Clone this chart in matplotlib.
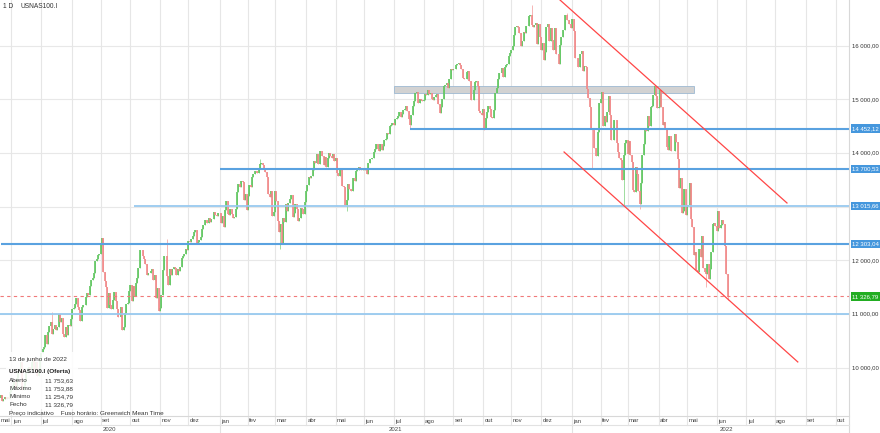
import numpy as np
import pandas as pd
import matplotlib
matplotlib.use('Agg')
import matplotlib.pyplot as plt
import matplotlib.transforms as mtransforms
from matplotlib.patches import Rectangle
from matplotlib.lines import Line2D

plt.rcParams['font.family'] = ['Liberation Sans', 'DejaVu Sans']

# ---------------- data ----------------
start_date = '2020-05-20'
first_open = 9440.0
closes = [
    # 2020 May (20-29)
    9485, 9375, 9410, 9450, 9410, 9450, 9420, 9555,
    # Jun
    9600, 9680, 9740, 9620, 9815, 9925, 9985, 10110, 9590, 9665, 9750, 9900, 10000, 10005, 9950,
    10100, 10185, 9950, 10110, 9850, 9960, 10155,
    # Jul
    10280, 10340, 10380, 10600, 10450, 10660, 10780, 10850, 10630, 10720, 10790, 10700, 10750,
    11000, 10860, 10920, 10620, 10580, 10750, 10600, 10800, 10780, 10905,
    # Aug
    11090, 11120, 11180, 11300, 11130, 11070, 10870, 11130, 11170, 11160, 11310, 11400, 11350,
    11520, 11640, 11670, 11760, 11980, 12030, 12100, 12110,
    # Sep
    12290, 12420, 11780, 11620, 11500, 11120, 11400, 11170, 11090, 11260, 11410, 11240, 11100,
    10940, 10940, 11130, 10710, 10760, 11010, 11190, 11200, 11420,
    # Oct
    11550, 11250, 11520, 11330, 11580, 11680, 11860, 12190, 12200, 12080, 12020, 11940, 11720,
    11760, 11760, 11800, 11840, 11640, 11720, 11300, 11490, 11050,
    # Nov
    11120, 11360, 11820, 12080, 12080, 11700, 11550, 11840, 11720, 11840, 11880, 11850, 11720,
    11830, 11800, 11880, 12050, 12090, 12120, 12220, 12200,
    # Dec
    12360, 12350, 12390, 12460, 12520, 12560, 12300, 12340, 12380, 12440, 12590, 12660, 12760,
    12760, 12700, 12780, 12720, 12770, 12770, 12900, 12850, 12820, 12890,
    # 2021 Jan
    12890, 12700, 12820, 12620, 12940, 13100, 12860, 12840, 12950, 12870, 12790, 12800, 12950,
    13280, 13420, 13370, 13470, 13460, 13120, 13230, 12930,
    # Feb
    13200, 13400, 13360, 13550, 13600, 13660, 13660, 13630, 13720, 13800, 13820, 13770, 13720,
    13640, 13560, 13230, 13180, 13300, 12830, 12910,
    # Mar
    13300, 13100, 12740, 12520, 12670, 12300, 12780, 12720, 13050, 12920, 13070, 13150, 13210,
    12810, 12880, 13050, 12960, 12740, 12780, 12980, 12950, 12860, 13090,
    # Apr
    13300, 13400, 13550, 13530, 13570, 13680, 13850, 13820, 13990, 13800, 14040, 14040, 13950,
    13780, 13930, 13740, 13900, 14000, 13950, 13910, 13990, 13860,
    # May
    13900, 13630, 13580, 13680, 13720, 13380, 13360, 13030, 13120, 13430, 13330, 13300, 13300,
    13540, 13470, 13660, 13680, 13740, 13700, 13690, 13700,
    # Jun
    13690, 13720, 13600, 13820, 13880, 13880, 13900, 14020, 14070, 14160, 14070, 14040, 14160,
    14050, 14140, 14250, 14270, 14370, 14360, 14500, 14530, 14550,
    # Jul
    14520, 14640, 14660, 14690, 14760, 14670, 14730, 14810, 14820, 14870, 14780, 14640, 14520,
    14700, 14880, 14970, 15110, 15130, 14940, 15010, 14990, 14960,
    # Aug
    14980, 15100, 15080, 15170, 15100, 15120, 15000, 14980, 15040, 15090, 15100, 14920, 14750,
    14860, 15010, 15240, 15270, 15300, 15210, 15380, 15560, 15550,
    # Sep
    15560, 15560, 15640, 15650, 15680, 15640, 15560, 15400, 15370, 15380, 15510, 15530, 15340,
    14990, 14990, 15170, 15320, 15350, 15240, 14780, 14750, 14700,
    # Oct
    14820, 14470, 14660, 14760, 14870, 14820, 14680, 14650, 14800, 15120, 15210, 15380, 15490,
    15490, 15590, 15420, 15600, 15640, 15650, 15810, 15860,
    # Nov
    15920, 15990, 16200, 16350, 16370, 16350, 16240, 15990, 16080, 16250, 16240, 16360, 16370,
    16550, 16580, 16380, 16350, 16390, 16420, 16030, 16400, 16170,
    # Dec
    15920, 16050, 15730, 15880, 16340, 16400, 16090, 16320, 16100, 15920, 16320, 15850, 15850,
    15660, 16010, 16170, 16300, 16300, 16570, 16480, 16480, 16400, 16320,
    # 2022 Jan
    16500, 16280, 15770, 15770, 15600, 15610, 15850, 15900, 15520, 15630, 15600, 15190, 15030,
    14850, 14450, 14430, 14090, 14090, 13950, 14400, 14930,
    # Feb
    15000, 15140, 14500, 14690, 14570, 14770, 15060, 14710, 14250, 14250, 14620, 14620, 14190,
    14010, 13900, 13870, 13500, 13960, 14190, 14240,
    # Mar
    13980, 14230, 13970, 13840, 13320, 13270, 13740, 13600, 13300, 13050, 13450, 13970, 14170,
    14440, 14410, 14690, 14510, 14850, 14880, 15080, 15240, 15070, 14840,
    # Apr
    14860, 15180, 14850, 14520, 14570, 14460, 14120, 14050, 14320, 14030, 14030, 14040, 14350,
    14200, 13880, 13350, 13530, 12890, 12920, 13330, 12850,
    # May
    13010, 13040, 13450, 12770, 12630, 12100, 12160, 11820, 11790, 12220, 12070, 12460, 11850,
    11780, 11740, 11930, 11650, 11830, 12160, 12680, 12700, 12640,
    # Jun
    12550, 12920, 12600, 12650, 12760, 12670, 12270, 11753.63, 11326.79,
]

# notable wick extremes
spike_dates = ['2020-07-13', '2020-11-09', '2021-02-12', '2021-03-05', '2021-05-13',
               '2021-07-19', '2021-10-04', '2021-11-22', '2021-12-28', '2022-01-24',
               '2022-02-24', '2022-03-14', '2022-03-29', '2022-05-20', '2022-06-13',
               '2022-06-13']
spike_prices = [11030, 12400, 13890, 12210, 12920,
                14450, 14420, 16760, 16600, 13720,
                13030, 12950, 15260, 11500, 11753.88,
                11254.79]

level_values = [14452.12, 13700.53, 13015.66, 12303.04]
level_starts = ['2021-07-19', '2021-01-01', '2020-10-06', '2020-05-20']
level_strong = [True, True, False, True]
support_value = 11000.0
last_price = 11326.79
zone_prices = [15113, 15255]
zone_dates = ['2021-07-01', '2022-05-09']
upper_dates = ['2021-12-17', '2022-08-12']
upper_prices = [16896, 13069]
lower_dates = ['2021-12-24', '2022-08-24']
lower_prices = [14019, 10107]
price_ticks = [10000, 11000, 12000, 13000, 14000, 15000, 16000]
month_names = ['jan', 'fev', 'mar', 'abr', 'mai', 'jun', 'jul', 'ago', 'set', 'out', 'nov', 'dez']
info_labels = ['Aberto', 'Máximo', 'Mínimo', 'Fecho']
info_values = [11753.63, 11753.88, 11254.79, 11326.79]

# ---------------- helpers ----------------
W, H = 880, 433
cal = pd.bdate_range(start_date, '2022-10-31')


def xpos(d):
    return cal.get_loc(pd.Timestamp(d))


def fmt(v):
    s = f"{v:,.2f}"
    return s.replace(',', ' ').replace('.', ',')


def fx(px):
    return px / W


def fy(py):
    return 1 - py / H


closes = np.array(closes, dtype=float)
opens = np.concatenate([[first_open], closes[:-1]])
xs = np.arange(len(closes))
highs = np.maximum(opens, closes)
lows = np.minimum(opens, closes)
for d, p in zip(spike_dates, spike_prices):
    i = xpos(d)
    highs[i] = max(highs[i], p)
    lows[i] = min(lows[i], p)

fig = plt.figure(figsize=(W / 100, H / 100), dpi=100)
fig.patch.set_facecolor('white')
plot_right = 849
plot_bottom = 416
ax = fig.add_axes([0, fy(plot_bottom), fx(plot_right), plot_bottom / H])
ax.set_xlim(-0.5, 627.9)
ax.set_ylim(9100, 16851)
for s in ax.spines.values():
    s.set_visible(False)
ax.set_xticks([])
ax.set_yticks([])

blend = mtransforms.blended_transform_factory(ax.transData, ax.transAxes)
blend_y = mtransforms.blended_transform_factory(ax.transAxes, ax.transData)

# horizontal grid
for v in price_ticks:
    ax.axhline(v, color='#e8e8e8', lw=0.8, zorder=0)

# month grid + labels
month_starts = []
for per in pd.period_range('2020-06', '2022-10', freq='M'):
    first = cal[(cal.year == per.year) & (cal.month == per.month)][0]
    month_starts.append((cal.get_loc(first), per.month, per.year))
row1 = (plot_bottom - 425) / plot_bottom
for x, m, y in month_starts:
    ax.plot([x, x], [row1, 1], transform=blend, color='#e6e6e6', lw=0.8,
            clip_on=False, zorder=0)
    ax.text(x + 1.0, (plot_bottom - 421) / plot_bottom, month_names[m - 1], transform=blend,
            fontsize=4.3, color='#444444', ha='left', va='center', clip_on=False)
ax.text(0.3, (plot_bottom - 421) / plot_bottom, 'mai', transform=blend,
        fontsize=4.3, color='#444444', ha='left', va='center', clip_on=False)

# zone rectangle
zx0, zx1 = xpos(zone_dates[0]), xpos(zone_dates[1])
ax.add_patch(Rectangle((zx0, zone_prices[0]), zx1 - zx0, zone_prices[1] - zone_prices[0],
                       facecolor='#d2d2d2', edgecolor='#9db9d2', lw=0.6, zorder=1.5))

# candles
up = closes >= opens
ax.vlines(xs[up], lows[up], highs[up], colors='#9fdc9f', lw=0.7, zorder=2)
ax.vlines(xs[~up], lows[~up], highs[~up], colors='#f6b5b5', lw=0.7, zorder=2)
ax.vlines(xs[up], opens[up], closes[up], colors='#5ec55e', lw=1.2, zorder=2.1)
ax.vlines(xs[~up], closes[~up], opens[~up], colors='#f08888', lw=1.2, zorder=2.1)

# horizontal levels
for v, d, strong in zip(level_values, level_starts, level_strong):
    ax.plot([xpos(d), 700], [v, v], color='#5aa2e0' if strong else '#98c9ef',
            lw=1.5 if strong else 1.3, zorder=3, solid_capstyle='butt')
ax.axhline(support_value, color='#98c9ef', lw=1.3, zorder=3)
ax.axhline(last_price, color='#f07a7a', lw=0.8, ls=(0, (3, 3)), zorder=3)

# channel
ax.plot([xpos(d) for d in upper_dates], upper_prices, color='#ff4646', lw=0.9, zorder=4)
ax.plot([xpos(d) for d in lower_dates], lower_prices, color='#ff4646', lw=0.9, zorder=4)

# price axis labels
for v in price_ticks:
    ax.text(1.003, v, fmt(v), transform=blend_y, fontsize=4.3, color='#333333',
            ha='left', va='center', clip_on=False, zorder=5)
for v, strong in zip(level_values, level_strong):
    ax.text(1.004, v, fmt(v), transform=blend_y, fontsize=4.3, color='white',
            ha='left', va='center', clip_on=False, zorder=6,
            bbox=dict(boxstyle='square,pad=0.3', fc='#4597dd', ec='none'))
ax.text(1.004, last_price, fmt(last_price), transform=blend_y, fontsize=4.3, color='white',
        ha='left', va='center', clip_on=False, zorder=6,
        bbox=dict(boxstyle='square,pad=0.3', fc='#22ad22', ec='none'))

# frame lines
fig.add_artist(Line2D([fx(plot_right), fx(plot_right)], [0, 1], color='#d8d8d8', lw=0.8))
fig.add_artist(Line2D([0, fx(plot_right)], [fy(plot_bottom), fy(plot_bottom)], color='#d8d8d8', lw=0.8))
fig.add_artist(Line2D([0, fx(plot_right)], [fy(425), fy(425)], color='#e2e2e2', lw=0.8))

# year labels
px_per = plot_right / (627.9 + 0.5)
def idx_px(i):
    return (i + 0.5) * px_per
j21 = idx_px(xpos('2021-01-01'))
j22 = idx_px(xpos('2022-01-03'))
for xp in (j21, j22):
    fig.add_artist(Line2D([fx(xp), fx(xp)], [fy(425), 0], color='#e2e2e2', lw=0.8))
for label, a, b in (('2020', 0, j21), ('2021', j21, j22), ('2022', j22, W)):
    fig.text(fx((a + b) / 2), fy(429.5), label, fontsize=4.3, color='#444444',
             ha='center', va='center')

# header
fig.text(fx(3), fy(6), '1 D', fontsize=4.8, color='#333333', ha='left', va='center')
fig.text(fx(20), fy(6), 'USNAS100.I', fontsize=4.8, color='#333333', ha='left', va='center')

# info box
fig.patches.append(Rectangle((fx(6), fy(409)), fx(72), 57 / H, transform=fig.transFigure,
                             facecolor='white', edgecolor='none', alpha=0.88, zorder=1))
fig.text(fx(9), fy(360), '13 de junho de 2022', fontsize=4.6, color='#333333',
         ha='left', va='center', zorder=2)
fig.text(fx(9), fy(372), 'USNAS100.I (Oferta)', fontsize=4.6, color='#222222',
         fontweight='bold', ha='left', va='center', zorder=2)
for i, (lab, val) in enumerate(zip(info_labels, info_values)):
    yy = 380.7 + i * 7.9
    fig.text(fx(9), fy(yy), lab, fontsize=4.6, color='#333333', ha='left', va='center', zorder=2)
    fig.text(fx(45), fy(yy), fmt(val), fontsize=4.6, color='#333333', ha='left', va='center',
             zorder=2)
fig.text(fx(9), fy(413.5), 'Preço indicativo    Fuso horário: Greenwich Mean Time',
         fontsize=4.6, color='#333333', ha='left', va='center', zorder=2)

fig.savefig('out.png', dpi=100, facecolor='white')
